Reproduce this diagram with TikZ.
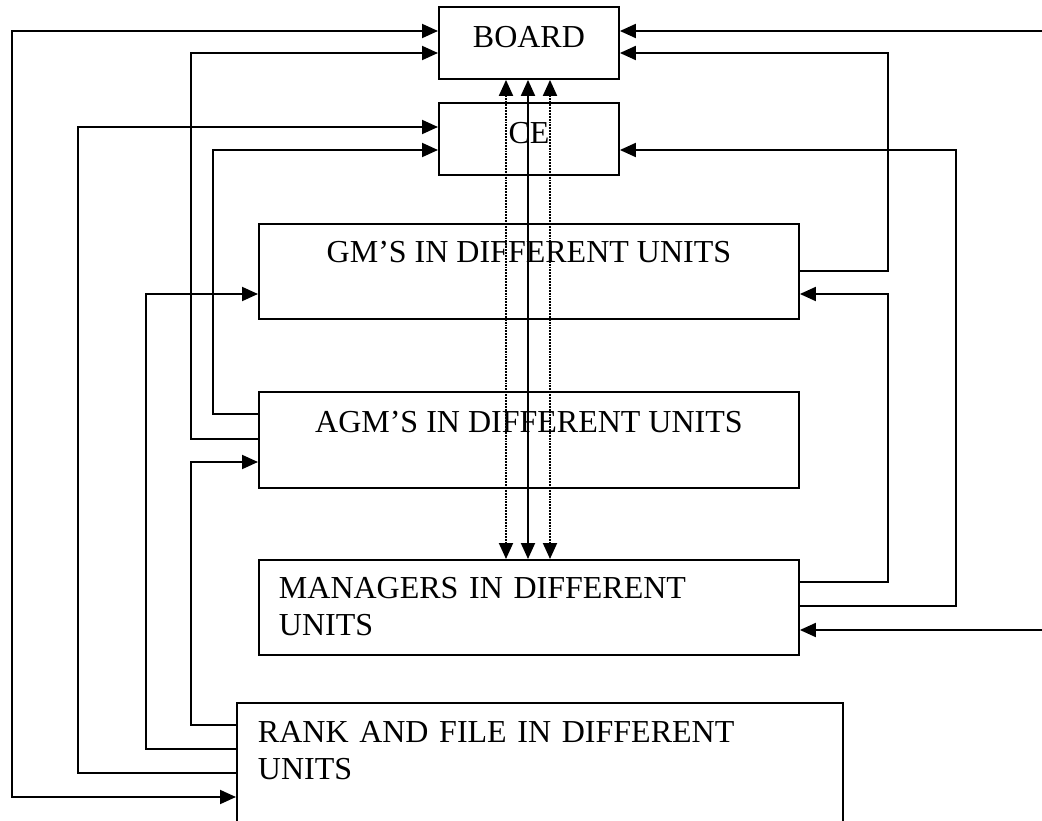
\documentclass[tikz,border=0pt]{standalone}
\usepackage{fontspec}
\setmainfont{Liberation Serif}
\usetikzlibrary{arrows.meta}

\begin{document}
\begin{tikzpicture}[
  x=1pt, y=-1pt,
  font=\fontsize{32}{37}\selectfont,
  tier/.style={draw, line width=1.9pt, anchor=north west, inner ysep=0pt, text height=41pt, text depth=31pt},
  wide/.style={tier, minimum width=540pt, text height=40pt, text depth=56pt},
  line/.style={line width=1.9pt},
  tip/.style={line, -{Triangle[length=16pt,width=14pt]}},
  both/.style={line, {Triangle[length=16pt,width=14pt]}-{Triangle[length=16pt,width=14pt]}}
]
  \useasboundingbox (0,0) rectangle (1042,821);

  \node[tier, minimum width=180pt] (board) at (438,6) {BOARD};
  \node[tier, minimum width=180pt] (ce) at (438,102) {CE};
  \node[wide, text height=39pt, text depth=56pt] (gm) at (258,223) {GM’S IN DIFFERENT UNITS};
  \node[wide, text height=41pt, text depth=55pt] (agm) at (258,391) {AGM’S IN DIFFERENT UNITS};
  \node[wide, text width=500pt, inner xsep=20pt, align=left, text height=39pt, text depth=56pt] (mgr) at (258,559) {MANAGERS IN DIFFERENT\\UNITS};
  \node[tier, text width=564pt, inner xsep=21pt, align=left, text height=40pt, text depth=110pt] (rank) at (236,702) {RANK AND FILE IN DIFFERENT\\UNITS};

  \foreach \x/\ls in {506/densely dotted, 528/solid, 550/densely dotted}
    \draw[both, \ls] (board.south -| \x,0) -- (mgr.north -| \x,0);

  \draw[both] (board.west |- 0,31) -- (12,31) -- (12,797) -- (rank.west |- 0,797);
  \draw[tip] (agm.west |- 0,439) -| (191,53) -- (board.west |- 0,53);
  \draw[tip] (rank.west |- 0,773) -| (78,127) -- (ce.west |- 0,127);
  \draw[tip] (agm.west |- 0,414) -| (213,150) -- (ce.west |- 0,150);
  \draw[tip] (rank.west |- 0,749) -| (146,294) -- (gm.west |- 0,294);
  \draw[tip] (rank.west |- 0,725) -| (191,462) -- (agm.west |- 0,462);

  \coordinate (in1) at (1042,31);
  \coordinate (in2) at (1042,630);
  \draw[tip] (in1) -- (board.east |- in1);
  \draw[tip] (gm.east |- 0,271) -| (888,53) -- (board.east |- 0,53);
  \draw[tip] (mgr.east |- 0,606) -| (956,150) -- (ce.east |- 0,150);
  \draw[tip] (mgr.east |- 0,582) -| (888,294) -- (gm.east |- 0,294);
  \draw[tip] (in2) -- (mgr.east |- in2);
\end{tikzpicture}
\end{document}
